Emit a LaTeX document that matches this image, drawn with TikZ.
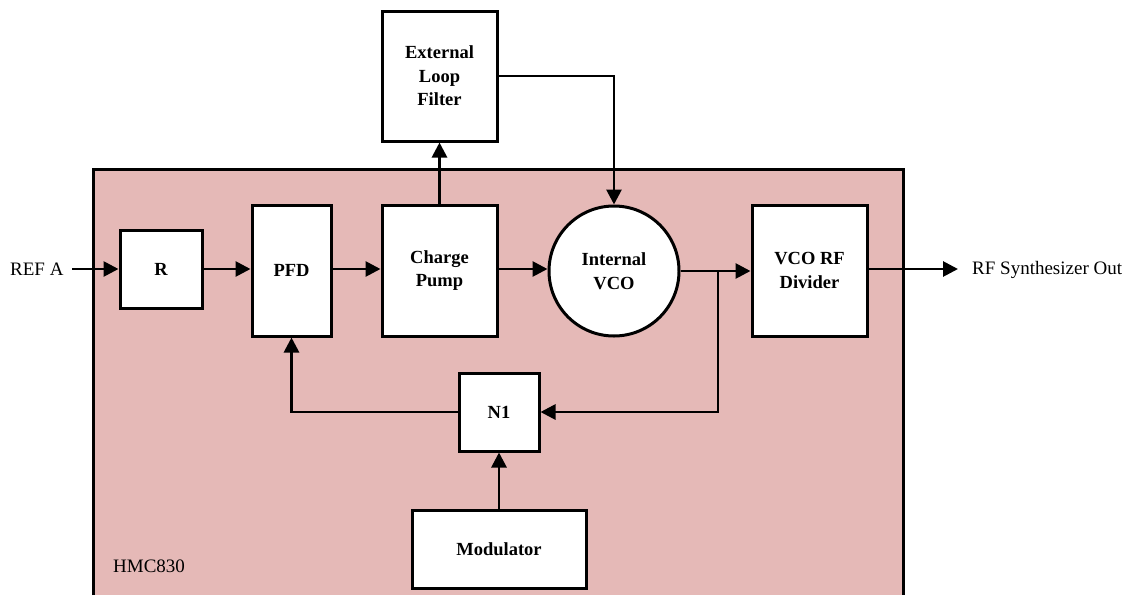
\documentclass[tikz,border=0pt]{standalone}
\usepackage{fontspec}
\setmainfont{Liberation Serif}
\usetikzlibrary{arrows.meta}
\definecolor{chip}{RGB}{229,185,183}
\begin{document}
\begin{tikzpicture}[x=1pt,y=-1pt,
  blk/.style={draw=black, line width=3pt, fill=white, inner sep=0pt,
    font=\fontsize{18.5}{23.5}\selectfont\bfseries, align=center},
  lbl/.style={inner sep=0pt, font=\fontsize{19}{23}\selectfont},
  conn/.style={line width=2.8pt, -{Triangle[length=15pt,width=15pt]}},
  wire/.style={line width=3pt}]
\useasboundingbox (0,0) rectangle (1125,595);
% chip area
\fill[chip] (93,169) rectangle (903,595);
\draw[wire] (93,595) -- (93,169) -- (903,169) -- (903,595);
\node[lbl, anchor=west] (hmc) at (113,566) {HMC830};
% blocks
\node[blk, minimum width=82pt, minimum height=78pt] (R) at (161,269) {R};
\node[blk, minimum width=79pt, minimum height=131pt] (pfd) at (291.5,270.5) {PFD};
\node[blk, minimum width=115pt, minimum height=131pt] (cp) at (439.5,270.5) {Charge\\Pump};
\node[blk, minimum width=115pt, minimum height=130pt] (elf) at (439.5,76) {External\\Loop\\Filter};
\node[blk, circle, minimum size=130pt] (vco) at (614,271) {Internal\\VCO};
\node[blk, minimum width=115pt, minimum height=131pt] (div) at (809.5,270.5) {VCO RF\\Divider};
\node[blk, minimum width=80pt, minimum height=78pt] (n1) at (499,412) {N1};
\node[blk, minimum width=174pt, minimum height=78pt] (mod) at (499,549) {Modulator};
% external labels
\node[lbl, anchor=west] (refa) at (10,269) {REF A};
\node[lbl, anchor=west] (rfout) at (972,270) {RF Synthesizer Out};
\coordinate (refst) at (72,269);
\coordinate (outend) at (958,269);
\coordinate (br) at (718,271);
% connectors
\draw[conn] (refst) -- (R.west);
\draw[conn] (R.east) -- (R.east -| pfd.west);
\draw[conn] (pfd.east |- R.east) -- (R.east -| cp.west);
\draw[conn] (cp.east |- R.east) -- (vco.west |- R.east);
\draw[conn] (vco.east) -- (div.west |- vco.east);
\draw[conn] (br) |- (n1.east);
\draw[conn] (n1.west) -| (pfd.south);
\draw[conn] (mod.north) -- (n1.south);
\draw[conn] (cp.north) -- (elf.south);
\draw[conn] (elf.east) -| (vco.north);
\draw[conn] (div.east |- outend) -- (outend);
\end{tikzpicture}
\end{document}
